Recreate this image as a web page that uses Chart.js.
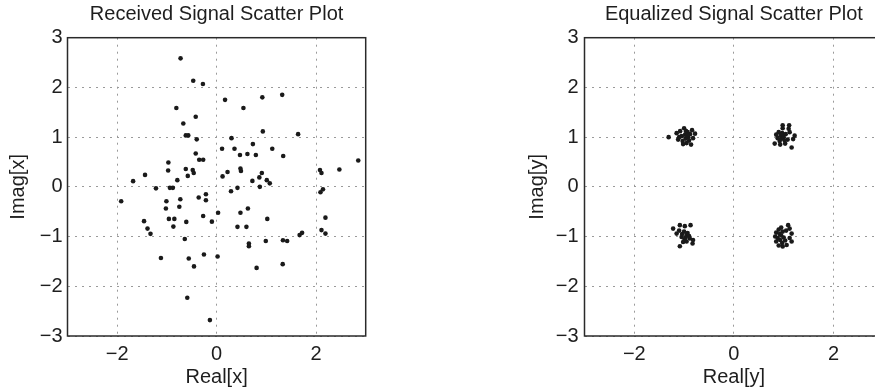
<!DOCTYPE html>
<html>
<head>
<meta charset="utf-8">
<script src="https://cdn.jsdelivr.net/npm/chart.js@4/dist/chart.umd.min.js"></script>
<style>
  html, body { margin: 0; padding: 0; background: #fff; overflow: hidden; width: 875px; height: 391px; }
  #leftWrap { position: absolute; left: 0; top: 0; width: 440px; height: 391px; }
  #rightWrap { position: absolute; left: 440px; top: 0; width: 460px; height: 391px; }
</style>
</head>
<body>
<div id="leftWrap"><canvas id="left" width="440" height="391"></canvas></div>
<div id="rightWrap"><canvas id="right" width="460" height="391"></canvas></div>
<script>
// ---- Data ----
const xTicks = [-2, 0, 2];
const yTicks = [-3, -2, -1, 0, 1, 2, 3];

const receivedRe = [
  -0.725, -0.47, -0.275, 0.17, 0.92, 1.32, -0.81, 0.54, -0.42, -0.67,
  -0.62, -0.57, -0.40, 0.93, 1.64, 0.30, 0.11, 0.36, 0.73, 1.12,
  0.47, 0.62, 0.79, 1.34, -0.42, -0.35, -0.27, 2.85, -0.97, -0.975,
  -0.62, -0.48, -0.46, -0.58, -1.44, -1.68, -0.79, 0.12, 0.22, 0.49,
  0.48, 0.91, 0.86, 0.72, 1.01, 1.07, 0.87, 2.08, 2.11, 2.47,
  -1.22, -0.94, -0.88, 0.29, 0.42, 2.09, 2.14, -1.92, -1.01, -0.73,
  -1.02, -0.75, -0.36, -0.215, -0.215, -0.27, 0.03, 0.48, 0.63, -0.96,
  -0.85, -0.61, -0.095, 1.02, -1.46, -1.39, -1.33, -0.87, 0.42, 0.60,
  -0.64, 0.65, 0.65, 0.99, 1.335, 1.42, 1.67, 1.72, 2.11, 2.19,
  2.19, -1.12, -0.56, -0.255, 0.02, -0.455, 0.805, 1.33, -0.59, -0.135
];
const receivedIm = [
  2.585, 2.135, 2.07, 1.75, 1.80, 1.85, 1.585, 1.585, 1.41, 1.275,
  1.035, 1.035, 0.955, 1.115, 1.06, 0.98, 0.765, 0.765, 0.86, 0.765,
  0.64, 0.66, 0.64, 0.62, 0.67, 0.545, 0.545, 0.53, 0.49, 0.33,
  0.36, 0.34, 0.28, 0.22, 0.24, 0.115, 0.135, 0.21, 0.30, 0.32,
  0.37, 0.28, 0.19, 0.12, 0.135, 0.07, 0.0, 0.34, 0.28, 0.35,
  -0.03, -0.02, -0.02, -0.09, -0.02, -0.11, -0.05, -0.29, -0.29, -0.25,
  -0.435, -0.40, -0.215, -0.15, -0.27, -0.585, -0.52, -0.52, -0.435, -0.645,
  -0.645, -0.705, -0.70, -0.645, -0.69, -0.84, -0.945, -0.80, -0.805, -0.805,
  -1.05, -1.14, -1.195, -1.09, -1.075, -1.09, -0.97, -0.925, -0.87, -0.94,
  -0.62, -1.43, -1.44, -1.36, -1.40, -1.60, -1.63, -1.555, -2.23, -2.68
];

const equalizedRe = [
  -1.31, -1.15, -1.12, -1.08, -1.05, -1.03, -1.00, -0.98, -0.97, -0.95, -0.93,
  -0.92, -0.90, -0.88, -0.86, -0.84, -0.82, -0.78, -1.02, -0.96, -1.10, -0.94,
  0.98, 1.11, 0.98, 1.10, 0.85, 0.88, 0.90, 0.92, 0.94, 0.96, 0.97,
  1.00, 1.02, 1.04, 0.82, 1.03, 1.19, 1.22, 1.16, 1.08, 0.93, 1.12,
  -1.22, -1.15, -1.085, -0.985, -0.87, -1.05, -0.95, -0.885, -1.02, -1.085,
  -0.83, -0.82, -1.00, -0.97, -0.93, -1.04, -0.99, -0.90, -1.10, -0.95,
  1.09, 1.16, 1.16, 1.06, 0.98, 0.90, 0.85, 0.83, 0.85, 0.90, 0.95,
  0.98, 0.92, 0.88, 0.93, 0.97, 1.00, 1.05, 1.12, 0.95, 1.03, 1.12
];
const equalizedIm = [
  1.00, 1.08, 0.95, 1.12, 1.02, 0.92, 1.18, 1.05, 0.97, 0.88, 1.10,
  1.00, 0.93, 1.06, 0.85, 1.14, 0.98, 1.07, 0.86, 1.12, 1.00, 1.04,
  1.24, 1.24, 1.18, 1.17, 1.05, 0.98, 1.10, 0.92, 1.03, 0.97, 1.08,
  1.00, 0.93, 1.06, 0.87, 0.87, 0.96, 1.03, 0.79, 0.95, 0.85, 1.10,
  -0.84, -0.94, -0.77, -0.79, -0.77, -1.01, -0.97, -1.04, -1.11, -1.195,
  -1.14, -1.07, -0.90, -1.02, -0.93, -0.95, -1.06, -0.99, -0.88, -1.10,
  -0.77, -0.94, -1.10, -1.17, -1.20, -1.18, -1.10, -1.00, -0.92, -0.86, -0.82,
  -0.90, -0.95, -1.03, -1.07, -1.13, -1.02, -0.88, -0.84, -0.98, -1.08, -1.03
];

// ---- Styling helpers ----
const FONT = '"Liberation Sans", Arial, Helvetica, sans-serif';
const TXT = '#1e1e1e';
const fmt = v => (v < 0 ? '\u2212' + Math.abs(v) : String(v));

const boxPlugin = {
  id: 'box',
  afterDatasetsDraw(chart) {
    const a = chart.chartArea, ctx = chart.ctx;
    ctx.save();
    ctx.strokeStyle = '#2a2a2a';
    ctx.lineWidth = 1.5;
    ctx.strokeRect(a.left, a.top, a.right - a.left, a.bottom - a.top);
    ctx.restore();
  }
};

function makeChart(id, re, im, title, xLabel, yLabel, geo) {
  const pts = re.map((x, i) => ({ x: x, y: im[i] }));
  return new Chart(document.getElementById(id), {
    type: 'scatter',
    data: { datasets: [{ data: pts, pointRadius: 2.3, pointHoverRadius: 2.3,
      pointBackgroundColor: '#1a1a1a', pointBorderWidth: 0 }] },
    plugins: [boxPlugin],
    options: {
      responsive: false, animation: false, events: [],
      layout: { padding: { left: geo.padLeft, right: geo.padRight, top: 0, bottom: 0 } },
      plugins: {
        legend: { display: false }, tooltip: { enabled: false },
        title: { display: true, text: title, fullSize: false, color: TXT,
          font: { family: FONT, size: 20, weight: 'normal', lineHeight: 1.2 },
          padding: { top: 2.5, bottom: 11.2 } }
      },
      scales: {
        x: {
          type: 'linear', min: -3, max: 3,
          afterBuildTicks: s => { s.ticks = xTicks.map(v => ({ value: v })); },
          afterFit: s => { s.height = 55; },
          ticks: { color: TXT, padding: 6.5, maxRotation: 0, autoSkip: false,
            font: { family: FONT, size: 20 }, callback: fmt },
          grid: { color: '#9a9a9a', lineWidth: 1, drawTicks: false },
          border: { display: false, dash: [2, 5] },
          title: { display: true, text: xLabel, color: TXT,
            font: { family: FONT, size: 20, lineHeight: 1.2 }, padding: { top: 0, bottom: 1.3 } }
        },
        y: {
          type: 'linear', min: -3, max: 3,
          afterBuildTicks: s => { s.ticks = yTicks.map(v => ({ value: v })); },
          afterFit: s => { s.width = geo.yWidth; },
          ticks: { color: TXT, padding: geo.yPad, autoSkip: false,
            font: { family: FONT, size: 20 }, callback: fmt },
          grid: { color: '#9a9a9a', lineWidth: 1, drawTicks: false },
          border: { display: false, dash: [2, 5] },
          title: { display: true, text: yLabel, color: TXT,
            font: { family: FONT, size: 20, lineHeight: 1.2 }, padding: { top: 6, bottom: 0 } }
        }
      }
    }
  });
}

makeChart('left', receivedRe, receivedIm, 'Received Signal Scatter Plot', 'Real[x]', 'Imag[x]',
  { padLeft: 0, padRight: 74.3, yWidth: 67.5, yPad: 5 });
makeChart('right', equalizedRe, equalizedIm, 'Equalized Signal Scatter Plot', 'Real[y]', 'Imag[y]',
  { padLeft: 79, padRight: 16.75, yWidth: 65.5, yPad: 6 });
</script>
</body>
</html>
